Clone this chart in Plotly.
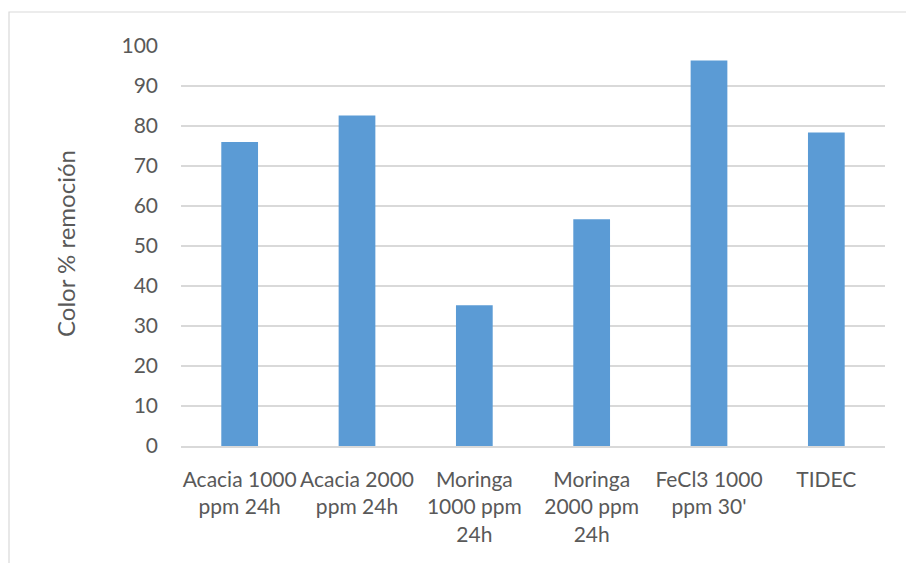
import plotly.graph_objects as go

# Color removal (%) per treatment
categories = [
    "Acacia 1000<br>ppm 24h",
    "Acacia 2000<br>ppm 24h",
    "Moringa<br>1000 ppm<br>24h",
    "Moringa<br>2000 ppm<br>24h",
    "FeCl3 1000<br>ppm 30'",
    "TIDEC",
]
removal = [76.0, 82.6, 35.2, 56.7, 96.4, 78.4]
y_ticks = [0, 10, 20, 30, 40, 50, 60, 70, 80, 90, 100]

W, H = 906, 563
ML, MR, MT, MB = 181, 21, 46, 117
pw, ph = W - ML - MR, H - MT - MB

FONT = "Lato, 'Open Sans', sans-serif"
TXT = "#595959"

fig = go.Figure(
    go.Bar(
        x=categories,
        y=removal,
        marker=dict(color="#5b9bd5", line=dict(width=0)),
        hoverinfo="x+y",
    )
)

fig.update_layout(
    width=W,
    height=H,
    margin=dict(l=ML, r=MR, t=MT, b=MB, autoexpand=False),
    paper_bgcolor="white",
    plot_bgcolor="white",
    bargap=0.687,
    showlegend=False,
    font=dict(family=FONT, size=21, color=TXT),
    xaxis=dict(
        showgrid=False,
        showline=True,
        linecolor="#d9d9d9",
        linewidth=1.5,
        ticks="",
        tickangle=0,
        tickfont=dict(family=FONT, size=21, color=TXT),
        ticklabelstandoff=14,
        fixedrange=True,
    ),
    yaxis=dict(
        range=[0, 100],
        tickvals=y_ticks,
        showgrid=True,
        gridcolor="#d9d9d9",
        gridwidth=1.5,
        zeroline=False,
        showline=False,
        ticks="",
        tickfont=dict(family=FONT, size=21, color=TXT),
        ticklabelstandoff=22,
        fixedrange=True,
    ),
    annotations=[
        dict(
            text="Color % remoción",
            xref="paper",
            yref="paper",
            x=(65 - ML) / pw,
            y=0.505,
            xanchor="center",
            yanchor="middle",
            textangle=-90,
            showarrow=False,
            font=dict(family=FONT, size=24, color=TXT),
        )
    ],
    shapes=[
        # chart-area frame (runs off the right and bottom edges)
        dict(
            type="rect",
            xref="paper",
            yref="paper",
            x0=(9 - ML) / pw,
            x1=(912 - ML) / pw,
            y0=(H - MB - 575) / ph,
            y1=(H - MB - 12) / ph,
            line=dict(color="#d9d9d9", width=1.2),
            fillcolor="rgba(0,0,0,0)",
            layer="below",
        )
    ],
)

fig.write_html("out.html")
